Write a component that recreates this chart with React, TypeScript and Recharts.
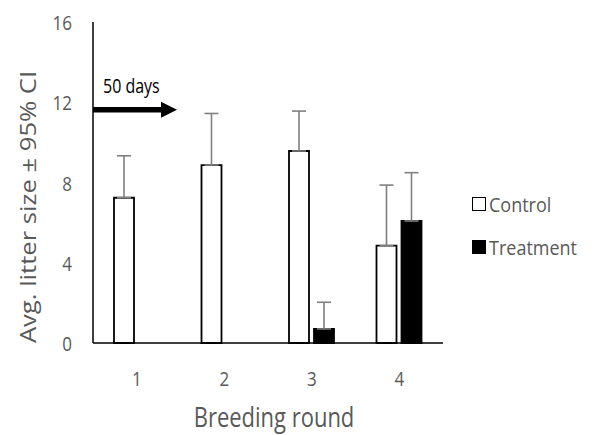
import { BarChart, Bar, XAxis, YAxis, ErrorBar, ReferenceLine, Legend } from "recharts"

const rounds = ["1", "2", "3", "4"]
const controlMeans = [7.24, 8.87, 9.57, 4.85]
const controlCI = [2.09, 2.57, 1.99, 3.02]
const treatmentMeans: (number | null)[] = [null, null, 0.7, 6.08]
const treatmentCI: (number | null)[] = [null, null, 1.33, 2.41]
const yTicks = [0, 4, 8, 12, 16]
const arrowAt = 11.63
const arrowText = "50 days"
const seriesNames = ["Control", "Treatment"]

const data = rounds.map((r, i) => ({
  round: r,
  control: controlMeans[i],
  controlErr: [0, controlCI[i]],
  treatment: treatmentMeans[i],
  treatmentErr: treatmentCI[i] == null ? null : [0, treatmentCI[i]],
}))

const grey = "#595959"
const font = "'Open Sans', sans-serif"
// the original picture is a bit stretched vertically, so text is too
const stretch = 1.2

function Stretched({ x, y, size, anchor, fill, children }: any) {
  return (
    <g transform={`translate(${x},${y}) scale(1,${stretch})`}>
      <text x={0} y={0} textAnchor={anchor} dominantBaseline="central" fontSize={size} fill={fill} fontFamily={font}>
        {children}
      </text>
    </g>
  )
}

function YTick(props: any) {
  const { x, y, payload } = props
  return (
    <Stretched x={x} y={y} size={17} anchor="end" fill={grey}>
      {payload.value}
    </Stretched>
  )
}

function XTick(props: any) {
  const { x, y, payload } = props
  return (
    <Stretched x={x} y={y} size={17} anchor="middle" fill={grey}>
      {payload.value}
    </Stretched>
  )
}

function Arrow(props: any) {
  const { x1, y1 } = props
  if (x1 == null) return null
  const x = x1
  const y = y1
  return (
    <g>
      <line x1={x} y1={y} x2={x + 70} y2={y} stroke="#000" strokeWidth={5.5} />
      <polygon points={`${x + 68},${y - 8} ${x + 84},${y} ${x + 68},${y + 8}`} fill="#000" />
      <Stretched x={x + 10} y={y - 24} size={16} anchor="start" fill="#000">
        {arrowText}
      </Stretched>
    </g>
  )
}

function LegendBox() {
  return (
    <div style={{ fontFamily: font, fontSize: 18, color: grey }}>
      {seriesNames.map((n, i) => (
        <div key={n} style={{ display: "flex", alignItems: "center", height: 43 }}>
          <span
            style={{
              display: "inline-block",
              width: 14,
              height: 14,
              border: "1.8px solid #000",
              background: i === 0 ? "#fff" : "#000",
              marginRight: 3,
              boxSizing: "border-box",
            }}
          />
          <span style={{ display: "inline-block", transform: `scaleY(${stretch - 0.05})` }}>{n}</span>
        </div>
      ))}
    </div>
  )
}

export default function App() {
  return (
    <div style={{ position: "absolute", left: 0, top: 0, background: "#fff" }}>
      <BarChart
        width={595}
        height={435}
        data={data}
        margin={{ top: 22, right: 152, bottom: 0, left: 0 }}
        barSize={20}
        barGap={5}
      >
        <XAxis
          dataKey="round"
          height={92}
          axisLine={{ stroke: "#000", strokeWidth: 1.5 }}
          tickLine={false}
          tickSize={0}
          tickMargin={35}
          tick={<XTick />}
          label={{
            content: () => (
              <Stretched x={274} y={417} size={22} anchor="middle" fill={grey}>
                Breeding round
              </Stretched>
            ),
          }}
        />
        <YAxis
          width={93}
          domain={[0, 16]}
          ticks={yTicks}
          axisLine={{ stroke: "#000", strokeWidth: 1.5 }}
          tickLine={false}
          tickSize={0}
          tickMargin={21}
          tick={<YTick />}
          label={{
            content: () => (
              <g transform={`translate(28,207) rotate(-90) scale(${stretch + 0.02},1)`}>
                <text x={0} y={0} textAnchor="middle" dominantBaseline="central" fill={grey} fontSize={21} fontFamily={font}>
                  Avg. litter size ± 95% CI
                </text>
              </g>
            ),
          }}
        />
        <Legend
          layout="vertical"
          align="center"
          verticalAlign="middle"
          wrapperStyle={{ left: 472, top: 182, width: 120 }}
          content={() => <LegendBox />}
        />
        <Bar dataKey="control" name={seriesNames[0]} fill="#fff" stroke="#000" strokeWidth={1.8} isAnimationActive={false}>
          <ErrorBar dataKey="controlErr" direction="y" width={7} stroke="#7f7f7f" strokeWidth={1.6} />
        </Bar>
        <Bar dataKey="treatment" name={seriesNames[1]} fill="#000" stroke="#000" strokeWidth={1.8} isAnimationActive={false}>
          <ErrorBar dataKey="treatmentErr" direction="y" width={7} stroke="#7f7f7f" strokeWidth={1.6} />
        </Bar>
        <ReferenceLine y={arrowAt} shape={<Arrow />} />
      </BarChart>
    </div>
  )
}
